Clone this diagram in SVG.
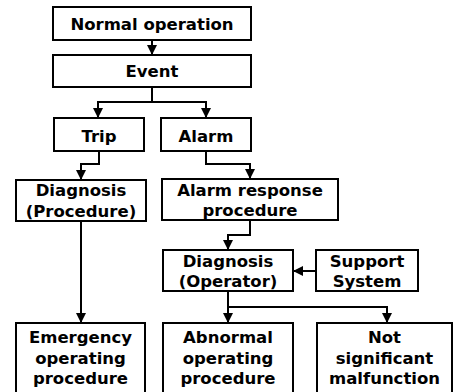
<svg xmlns="http://www.w3.org/2000/svg" width="453" height="392" viewBox="0 0 453 392">
<defs>
<marker id="ah" viewBox="0 0 10 10" refX="10" refY="5" markerWidth="5" markerHeight="5" orient="auto" markerUnits="strokeWidth">
<path d="M0,0 L10,5 L0,10 Z" fill="#000"/>
</marker>
<style>
.box{fill:#fff;stroke:#000;stroke-width:2}
.t{font-family:"DejaVu Sans",sans-serif;font-weight:bold;font-size:16.5px;text-anchor:middle;fill:#000}
.c{fill:none;stroke:#000;stroke-width:2;marker-end:url(#ah)}
</style>
</defs>
<rect width="453" height="392" fill="#fff"/>
<g id="connectors">
<path class="c" d="M152,40 V55"/>
<path class="c" d="M152,87 V102 H98 V118"/>
<path class="c" d="M152,102 H206 V118"/>
<path class="c" d="M99,151 V164 H81 V180"/>
<path class="c" d="M206,151 V164 H250 V179"/>
<path class="c" d="M250,220 V235 H228 V250"/>
<path class="c" d="M316,271 H293"/>
<path class="c" d="M81,221 V323"/>
<path class="c" d="M228,291 V307 V323"/>
<path class="c" d="M228,307 H387 V323"/>
</g>
<g id="normal"><rect class="box" x="53" y="7" width="198" height="33"/><text class="t" x="152" y="30">Normal operation</text></g>
<g id="event"><rect class="box" x="53" y="55" width="198" height="32"/><text class="t" x="152" y="77">Event</text></g>
<g id="trip"><rect class="box" x="54" y="118" width="90" height="33"/><text class="t" x="99" y="142">Trip</text></g>
<g id="alarm"><rect class="box" x="161" y="118" width="90" height="33"/><text class="t" x="206" y="142">Alarm</text></g>
<g id="diag-proc"><rect class="box" x="16" y="180" width="130" height="41"/><text class="t" x="81" y="196">Diagnosis</text><text class="t" x="81" y="216.5">(Procedure)</text></g>
<g id="alarm-resp"><rect class="box" x="162" y="179" width="176" height="41"/><text class="t" x="250" y="195.5">Alarm response</text><text class="t" x="250" y="216">procedure</text></g>
<g id="diag-op"><rect class="box" x="163" y="250" width="130" height="41"/><text class="t" x="228" y="266.5">Diagnosis</text><text class="t" x="228" y="287">(Operator)</text></g>
<g id="support"><rect class="box" x="316" y="250" width="102" height="41"/><text class="t" x="367" y="266.5">Support</text><text class="t" x="367" y="287">System</text></g>
<g id="emergency"><rect class="box" x="16" y="323" width="129" height="75"/><text class="t" x="80.5" y="343">Emergency</text><text class="t" x="80.5" y="363.5">operating</text><text class="t" x="80.5" y="384">procedure</text></g>
<g id="abnormal"><rect class="box" x="163" y="323" width="130" height="75"/><text class="t" x="228" y="343">Abnormal</text><text class="t" x="228" y="363.5">operating</text><text class="t" x="228" y="384">procedure</text></g>
<g id="not-significant"><rect class="box" x="317" y="323" width="135" height="75"/><text class="t" x="384.5" y="343">Not</text><text class="t" x="384.5" y="363.5">significant</text><text class="t" x="384.5" y="384">malfunction</text></g>
</svg>
